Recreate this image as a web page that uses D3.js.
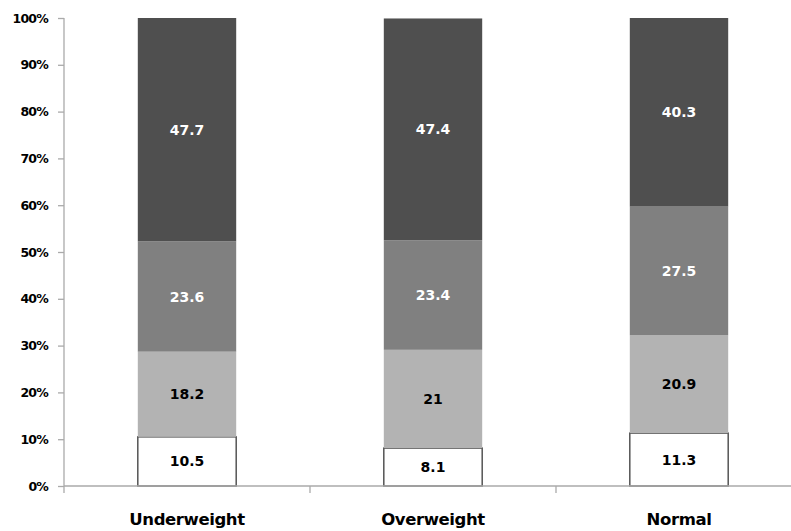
<!DOCTYPE html>
<html>
<head>
<meta charset="utf-8">
<script src="https://cdn.jsdelivr.net/npm/d3@7"></script>
<style>
  html, body { margin: 0; padding: 0; background: #fff; }
  svg text { font-family: "DejaVu Sans", Verdana, sans-serif; font-weight: bold; }
</style>
</head>
<body>
<svg id="chart" width="791" height="531"></svg>
<script>
// BMI groups along the x axis
const categories = ["Underweight", "Overweight", "Normal"];

// Stacked segments, bottom to top (percent of each group)
const seriesKeys = ["s1", "s2", "s3", "s4"];
const s1 = [10.5, 8.1, 11.3];
const s2 = [18.2, 21, 20.9];
const s3 = [23.6, 23.4, 27.5];
const s4 = [47.7, 47.4, 40.3];

const yTicks = [0, 10, 20, 30, 40, 50, 60, 70, 80, 90, 100];

const fills = { s1: "#ffffff", s2: "#b3b3b3", s3: "#808080", s4: "#4f4f4f" };
const labelFill = { s1: "#000", s2: "#000", s3: "#fff", s4: "#fff" };

const rows = categories.map((c, i) => ({
  cat: c, s1: s1[i], s2: s2[i], s3: s3[i], s4: s4[i]
}));

const svg = d3.select("#chart");
const x0 = 64, x1 = 802, yTop = 18, yBase = 486;

const x = d3.scaleBand().domain(categories).range([x0, x1]).paddingInner(0.6).paddingOuter(0.3);
const y = d3.scaleLinear().domain([0, 100]).range([yBase, yTop]);

const stack = d3.stack().keys(seriesKeys);
const layers = stack(rows);

// bars
const g = svg.append("g");
layers.forEach(layer => {
  const key = layer.key;
  g.selectAll(null).data(layer).enter().append("rect")
    .attr("x", d => x(d.data.cat))
    .attr("width", x.bandwidth())
    .attr("y", d => y(d[1]))
    .attr("height", d => y(d[0]) - y(d[1]))
    .attr("fill", fills[key])
    .attr("stroke", key === "s1" ? "#555" : "none")
    .attr("stroke-width", key === "s1" ? 1.5 : 0);
});

// segment value labels
layers.forEach(layer => {
  const key = layer.key;
  g.selectAll(null).data(layer).enter().append("text")
    .attr("x", d => x(d.data.cat) + x.bandwidth() / 2)
    .attr("y", d => (y(d[0]) + y(d[1])) / 2)
    .attr("dy", "0.36em")
    .attr("text-anchor", "middle")
    .attr("font-size", 14)
    .attr("fill", labelFill[key])
    .text(d => d.data[key]);
});

// y axis
const yAxis = d3.axisLeft(y).tickValues(yTicks).tickFormat(d => d + "%").tickSizeInner(6).tickSizeOuter(0);
const ya = svg.append("g").attr("transform", `translate(${x0},0)`).call(yAxis);
ya.select(".domain").remove();
ya.append("line").attr("x1", 0).attr("x2", 0).attr("y1", yTop).attr("y2", yBase + 7)
  .attr("stroke", "#aaa").attr("stroke-width", 1.3);
ya.selectAll(".tick line").attr("stroke", "#aaa").attr("stroke-width", 1.3);
ya.selectAll(".tick text").attr("font-size", 12.5).attr("fill", "#000").attr("x", -16)
  .attr("font-family", "'DejaVu Sans', sans-serif").attr("font-weight", "bold").attr("letter-spacing", -0.8);

// x axis
const xa = svg.append("g").attr("transform", `translate(0,${yBase})`);
xa.append("line").attr("x1", x0).attr("x2", 791).attr("y1", 0).attr("y2", 0)
  .attr("stroke", "#aaa").attr("stroke-width", 1.3);
const bounds = categories.slice(1).map(c => x(c) - x.step() * x.paddingInner() / 2);
xa.selectAll(null).data(bounds).enter().append("line")
  .attr("x1", d => d).attr("x2", d => d).attr("y1", 0).attr("y2", 7)
  .attr("stroke", "#aaa").attr("stroke-width", 1.3);
xa.selectAll(null).data(categories).enter().append("text")
  .attr("x", d => x(d) + x.bandwidth() / 2)
  .attr("y", 39)
  .attr("text-anchor", "middle")
  .attr("font-size", 16.5)
  .attr("fill", "#000")
  .attr("letter-spacing", -0.4)
  .text(d => d);
</script>
</body>
</html>
